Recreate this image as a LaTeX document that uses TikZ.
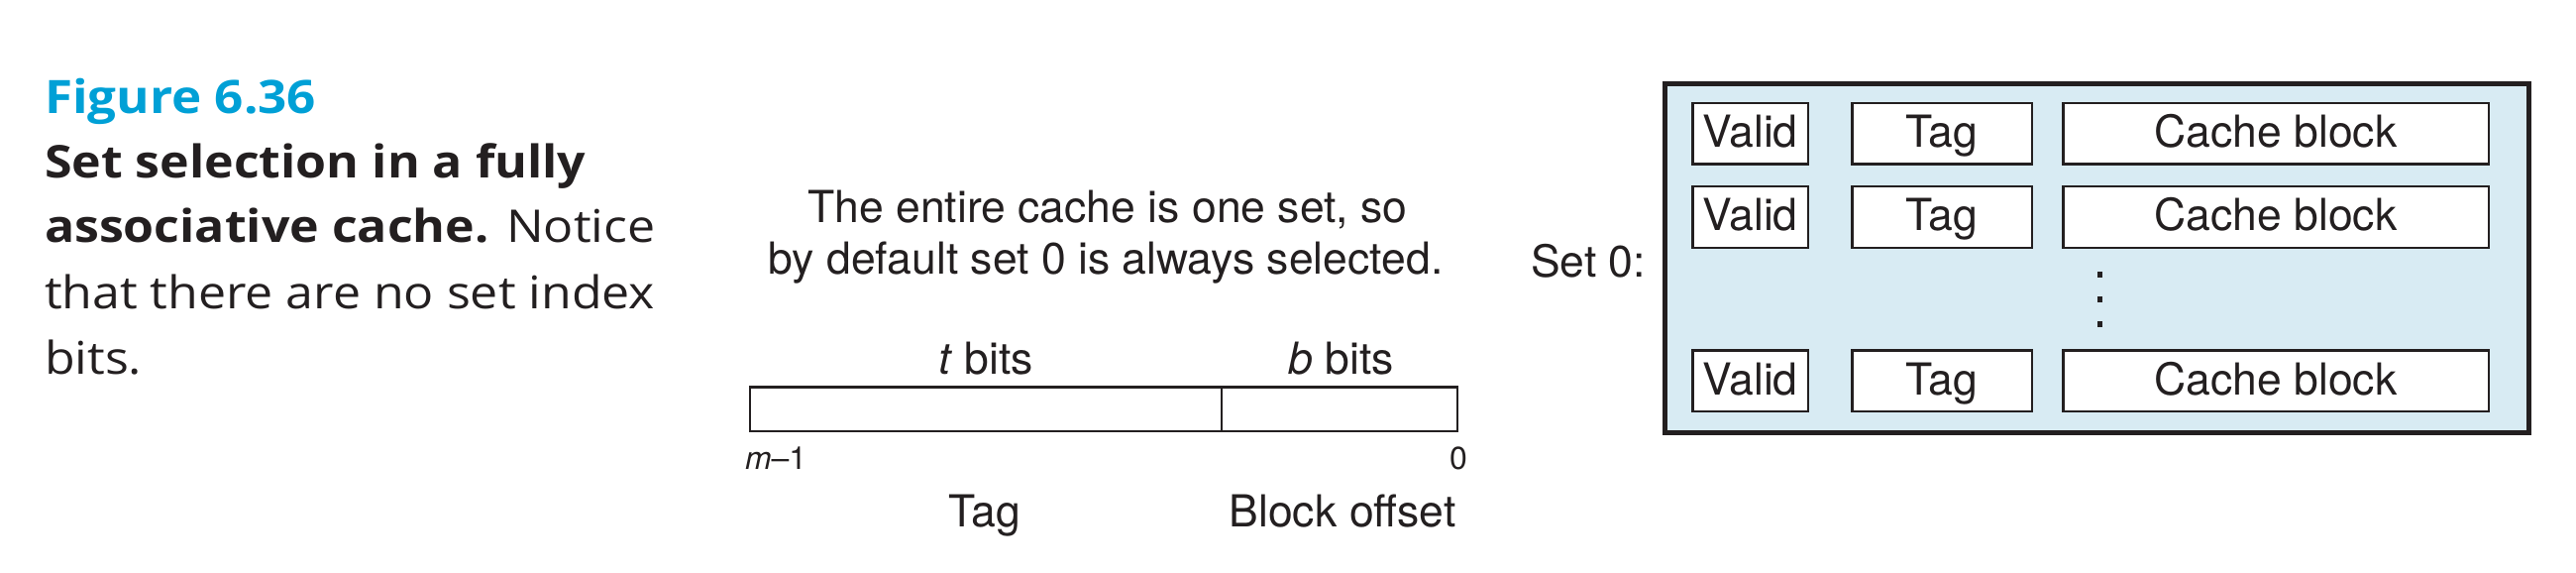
\documentclass[tikz,border=0pt]{standalone}
\usepackage{fontspec}
\setmainfont{TeX Gyre Heros}
\newfontfamily\capfont{Open Sans}[FakeStretch=1.1]
\definecolor{figblue}{RGB}{0,160,214}
\definecolor{setfill}{RGB}{216,235,243}
\definecolor{ink}{RGB}{35,31,32}
\begin{document}
\begin{tikzpicture}[x=1bp,y=-1bp,
  every node/.style={inner sep=0pt, outer sep=0pt, text=ink},
  diag/.style={font=\fontsize{44.5bp}{51bp}\selectfont},
  smalllbl/.style={font=\fontsize{32bp}{38bp}\selectfont},
  captxt/.style={anchor=base west, font=\capfont\fontsize{45.5bp}{66bp}\selectfont},
  captitle/.style={anchor=base west, text=figblue, font=\capfont\bfseries\fontsize{46.5bp}{66bp}\selectfont},
  field/.style={draw=ink, line width=2.5bp, fill=white, diag, text height=30bp, text depth=2bp},
  bitfield/.style={draw=ink, line width=2.5bp, minimum height=44.5bp},
  setbox/.style={draw=ink, line width=5bp, fill=setfill}
]
\useasboundingbox (0,0) rectangle (2600,578);

% caption
\node[captitle] (fig) at (45,115) {Figure 6.36};
\node[captxt] (c1) at (45,180) {\bfseries Set selection in a fully};
\node[captxt] (c2) at (45,245) {{\bfseries associative cache.} Notice};
\node[captxt] (c3) at (45,311) {that there are no set index};
\node[captxt] (c4) at (45,377) {bits.};

% middle: address
\node[diag, anchor=base] (n1) at (1118,225) {The entire cache is one set, so};
\node[diag, anchor=base] (n2) at (1116,276) {by default set 0 is always selected.};
\node[bitfield, minimum width=475.75bp] (tagf) at (995.1,412.5) {};
\node[bitfield, minimum width=237.75bp] (blkf) at (1351.9,412.5) {};
\node[diag, anchor=base] (tb) at (995,377) {\textit{t} bits};
\node[diag, anchor=base] (bb) at (1353.5,377) {\textit{b} bits};
\node[smalllbl, anchor=base west] (hi) at (752,473) {\textit{m}–1};
\node[smalllbl, anchor=base east] (lo) at (1481,473) {0};
\node[diag, anchor=base] (tagl) at (994,531) {Tag};
\node[diag, anchor=base] (blkl) at (1355,531) {Block offset};

% right: set 0
\node[setbox, minimum width=872bp, minimum height=352bp] (set) at (2116.5,260.5) {};
\node[diag, anchor=base west] (setl) at (1545,279) {Set 0:};
\foreach \r/\cy in {1/135, 2/219, 3/384} {
  \node[field, minimum width=116.5bp, minimum height=61.5bp] (v\r) at (1766.5,\cy) {Valid};
  \node[field, minimum width=181.5bp, minimum height=61.5bp] (t\r) at (1960,\cy) {Tag};
  \node[field, minimum width=429.5bp, minimum height=61.5bp] (b\r) at (2297,\cy) {Cache block};
}
\foreach \dy in {277,302,327} {
  \fill[ink] (2117.3,\dy-2.8) rectangle (2121.7,\dy+2.8);
}
\end{tikzpicture}
\end{document}
